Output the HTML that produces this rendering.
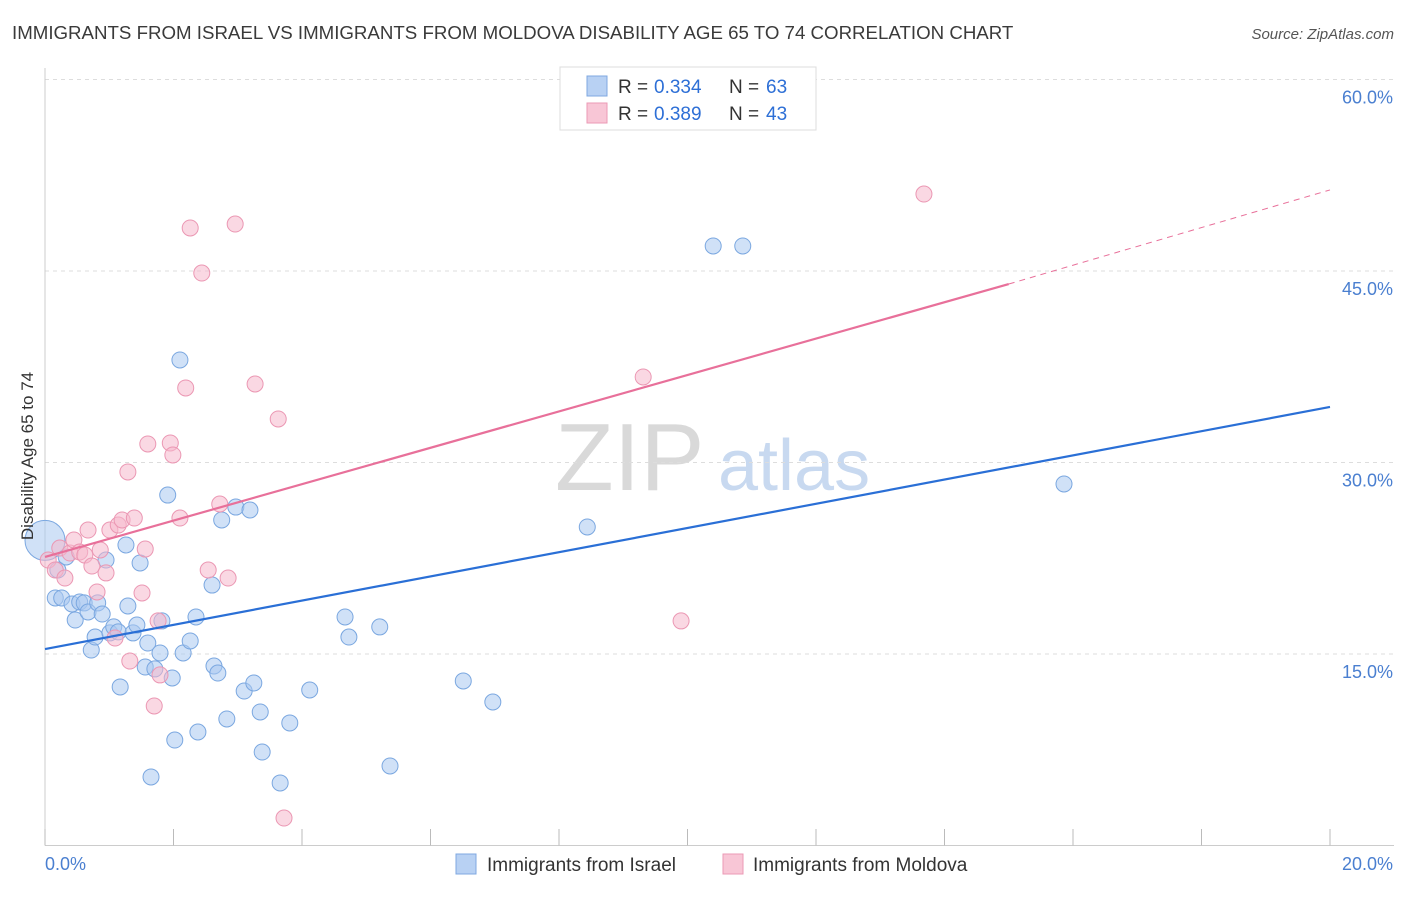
<!DOCTYPE html>
<html><head><meta charset="utf-8"><style>
body{margin:0;background:#fff;font-family:"Liberation Sans",sans-serif;}
svg text{font-family:"Liberation Sans",sans-serif;}
</style></head><body>
<svg id="chart" width="1406" height="892" viewBox="0 0 1406 892" xmlns="http://www.w3.org/2000/svg">
<text x="12" y="39" font-size="18.7" fill="#3a3a3a">IMMIGRANTS FROM ISRAEL VS IMMIGRANTS FROM MOLDOVA DISABILITY AGE 65 TO 74 CORRELATION CHART</text>
<text x="1394" y="39" font-size="15" fill="#555" text-anchor="end" font-style="italic">Source: ZipAtlas.com</text>
<g>
<text x="555" y="490" font-size="96" fill="#d9d9d9" font-family="Liberation Serif, serif">ZIP</text>
<text x="718" y="490" font-size="72" fill="#c8d9f0">atlas</text>
</g>
<g id="grid"></g>
<g id="axes"></g>
<g id="marks"></g>
<text transform="translate(33,456) rotate(-90)" font-size="17" fill="#333" text-anchor="middle">Disability Age 65 to 74</text>
<g>
<rect x="560" y="67" width="256" height="63" fill="#fff" stroke="#ddd"/>
<rect x="587" y="76" width="20" height="20" fill="#b8d1f3" stroke="#7fa8e0"/>
<rect x="587" y="103" width="20" height="20" fill="#f8c6d6" stroke="#eb9ab5"/>
<text font-size="19" fill="#333"><tspan x="618" y="93">R = </tspan><tspan x="654" y="93" fill="#2d6fd6">0.334</tspan><tspan x="729" y="93">N = </tspan><tspan x="766" y="93" fill="#2d6fd6">63</tspan></text>
<text font-size="19" fill="#333"><tspan x="618" y="120">R = </tspan><tspan x="654" y="120" fill="#2d6fd6">0.389</tspan><tspan x="729" y="120">N = </tspan><tspan x="766" y="120" fill="#2d6fd6">43</tspan></text>
</g>
<g>
<rect x="456" y="854" width="20" height="20" fill="#b8d1f3" stroke="#7fa8e0"/>
<text x="487" y="871" font-size="19" fill="#333">Immigrants from Israel</text>
<rect x="723" y="854" width="20" height="20" fill="#f8c6d6" stroke="#eb9ab5"/>
<text x="753" y="871" font-size="19" fill="#333">Immigrants from Moldova</text>
</g>
</svg>
<script>
const israelX=[0.0,0.16,0.20,0.26,0.33,0.42,0.47,0.54,0.61,0.67,0.72,0.78,0.82,0.89,0.95,1.01,1.07,1.14,1.17,1.26,1.29,1.37,1.43,1.48,1.56,1.60,1.65,1.71,1.79,1.82,1.91,1.98,2.02,2.10,2.15,2.26,2.35,2.38,2.60,2.63,2.69,2.75,2.83,2.97,3.10,3.19,3.25,3.35,3.38,3.66,3.81,4.12,4.67,4.73,5.21,5.37,6.51,6.97,8.44,10.40,10.86,15.86];
const israelY=[23.9,19.39,21.58,19.39,22.60,18.92,17.66,19.07,19.0,18.29,15.31,16.33,19.0,18.13,22.36,16.65,17.12,16.73,12.42,23.54,18.76,16.65,17.27,22.13,13.98,15.86,5.37,13.83,15.08,17.59,27.45,13.12,8.26,38.03,15.08,16.02,17.90,8.89,20.40,14.06,13.51,25.50,9.91,26.51,12.10,26.28,12.73,10.46,7.32,4.90,9.60,12.18,17.90,16.33,17.12,6.23,12.89,11.24,24.95,46.96,46.96,28.32];
const moldovaX=[0.05,0.16,0.23,0.31,0.39,0.45,0.54,0.62,0.67,0.73,0.81,0.86,0.95,1.01,1.09,1.14,1.20,1.29,1.32,1.39,1.51,1.56,1.60,1.70,1.76,1.79,1.95,1.99,2.10,2.19,2.26,2.44,2.54,2.72,2.85,2.96,3.27,3.63,3.72,9.31,9.90,13.68];
const moldovaY=[22.36,21.58,23.30,20.95,22.91,23.93,22.99,22.75,24.71,21.89,19.86,23.15,21.35,24.71,16.25,25.10,25.50,29.26,14.45,25.65,19.78,23.22,31.45,10.93,17.59,13.36,31.53,30.59,25.65,35.84,48.37,44.84,21.58,26.75,20.95,48.68,36.15,33.41,2.15,36.70,17.59,51.03];
const israelLine=[15.39,34.35];
const moldovaLine=[22.60,43.98,51.35];
const moldovaSolidEnd=[15.0];
const yTicks=[15,30,45,60];
const yTickLabels=["15.0%","30.0%","45.0%","60.0%"];
const xTicks=[0,2,4,6,8,10,12,14,16,18,20];
const xTickLabels=["0.0%","20.0%"];

const X0=45,X1=1330,Yb=845.5,ppy=191.5/15;
const sx=v=>X0+(X1-X0)*v/20;
const sy=v=>Yb-v*ppy;
const NS="http://www.w3.org/2000/svg";
function mk(tag,attrs,parent){const e=document.createElementNS(NS,tag);for(const k in attrs)e.setAttribute(k,attrs[k]);parent.appendChild(e);return e;}
const grid=document.getElementById('grid'),axes=document.getElementById('axes'),marks=document.getElementById('marks');
yTicks.forEach((t,i)=>{
  const l=mk('line',{x1:X0,x2:1394,y1:sy(t),y2:sy(t),stroke:'#ddd','stroke-dasharray':'4,4'},grid);
  
  
  const tx=mk('text',{x:1393,y:sy(t)+24,'font-size':18,fill:'#4a7fd0','text-anchor':'end'},axes);
  tx.textContent=yTickLabels[i];
  
  
});
const ax=mk('line',{x1:X0,x2:1394,y1:Yb,y2:Yb,stroke:'#ccc'},axes);


const ay=mk('line',{x1:X0,x2:X0,y1:68,y2:Yb,stroke:'#ccc'},axes);


xTicks.forEach(t=>{
  const l=mk('line',{x1:sx(t),x2:sx(t),y1:829,y2:Yb,stroke:'#bbb'},axes);
  
  
});
const xl0=mk('text',{x:45,y:870,'font-size':18,fill:'#4a7fd0'},axes);xl0.textContent=xTickLabels[0];


const xl1=mk('text',{x:1393,y:870,'font-size':18,fill:'#4a7fd0','text-anchor':'end'},axes);xl1.textContent=xTickLabels[1];



israelX.forEach((x,i)=>{
  const c=mk('circle',{cx:sx(x),cy:sy(israelY[i]),r:i===0?20:8,fill:'rgba(169,200,240,0.55)',stroke:'#7aa7e0','stroke-width':1},marks);
  
  
});
moldovaX.forEach((x,i)=>{
  const c=mk('circle',{cx:sx(x),cy:sy(moldovaY[i]),r:8,fill:'rgba(246,184,204,0.55)',stroke:'#eb97b3','stroke-width':1},marks);
  
  
});
const bl=mk('line',{x1:sx(0),y1:sy(israelLine[0]),x2:sx(20),y2:sy(israelLine[1]),stroke:'#2a6fd6','stroke-width':2.2},marks);


const pl=mk('line',{x1:sx(0),y1:sy(moldovaLine[0]),x2:sx(moldovaSolidEnd[0]),y2:sy(moldovaLine[1]),stroke:'#e8709a','stroke-width':2.2},marks);


const pd=mk('line',{x1:sx(moldovaSolidEnd[0]),y1:sy(moldovaLine[1]),x2:sx(20),y2:sy(moldovaLine[2]),stroke:'#e8709a','stroke-width':1,'stroke-dasharray':'6,5'},marks);


</script>
</body></html>
